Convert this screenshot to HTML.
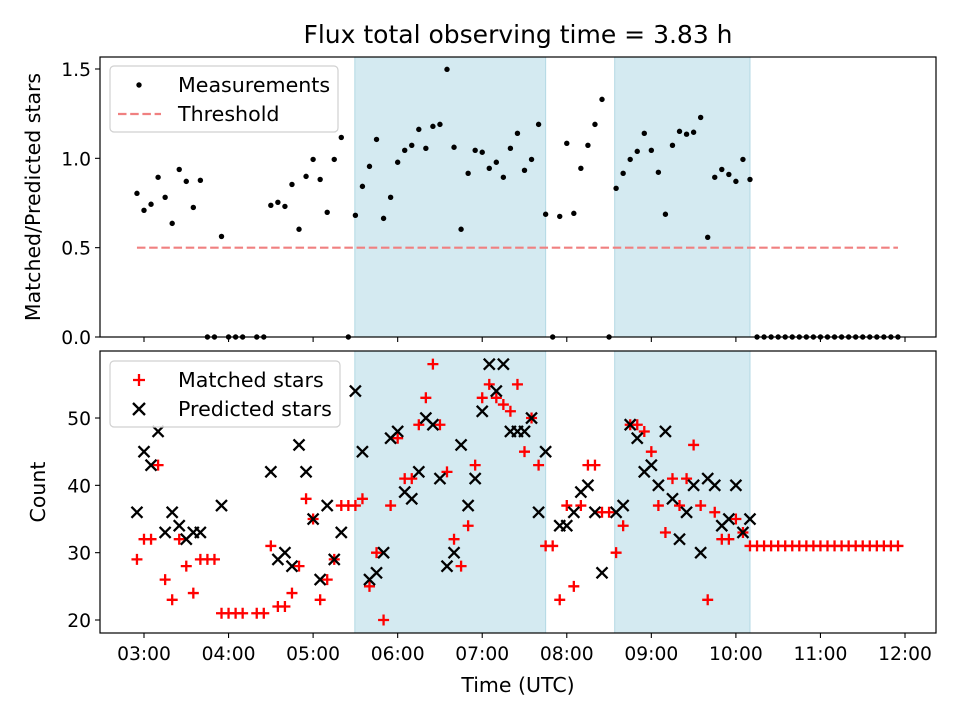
<!DOCTYPE html>
<html><head><meta charset="utf-8"><style>
html,body{margin:0;padding:0;background:#fff}
svg{display:block;font-family:"DejaVu Sans","Liberation Sans",sans-serif}
</style></head><body>
<svg id="fig" width="960" height="720" viewBox="0 0 960 720">
<rect width="960" height="720" fill="#fff"/>
<text x="518" y="43" font-size="25" text-anchor="middle">Flux total observing time = 3.83 h</text>
<g id="topPanel"></g>
<g id="botPanel"></g>
<text x="40" y="197" font-size="20.5" text-anchor="middle" transform="rotate(-90 40 197)">Matched/Predicted stars</text>
<text x="45" y="492" font-size="20.5" text-anchor="middle" transform="rotate(-90 45 492)">Count</text>
<text x="518" y="692" font-size="20.5" text-anchor="middle">Time (UTC)</text>
</svg>
<script>
const times = [175,180,185,190,195,200,205,210,215,220,225,230,235,240,245,250,255,260,265,270,275,280,285,290,295,300,305,310,315,320,325,330,335,340,345,350,355,360,365,370,375,380,385,390,395,400,405,410,415,420,425,430,435,440,445,450,455,460,465,470,475,480,485,490,495,500,505,510,515,520,525,530,535,540,545,550,555,560,565,570,575,580,585,590,595,600,605,610,615,620,625,630,635,640,645,650,655,660,665,670,675,680,685,690,695,700,705,710,715];
const ratio = [.804,.709,.743,.894,.782,.636,.938,.871,.725,.877,0,0,.563,0,0,0,null,0,0,.737,.754,.731,.854,.603,.899,.994,.882,.698,.994,1.117,0,.681,.843,.955,1.106,.664,.782,.978,1.045,1.073,1.162,1.056,1.179,1.19,1.498,1.062,.603,.916,1.045,1.034,.944,.978,.894,1.056,1.14,.933,.994,1.19,.687,0,.675,1.084,.692,.944,1.073,1.19,1.33,0,.832,.916,.994,1.039,1.14,1.045,.922,.687,1.073,1.151,1.135,1.146,1.229,.558,.894,.938,.91,.871,.994,.882,0,0,0,0,0,0,0,0,0,0,0,0,0,0,0,0,0,0,0,0,0];
const matched = [29,32,32,43,26,23,32,28,24,29,29,29,21,21,21,21,null,21,21,31,22,22,24,28,38,35,23,26,29,37,37,37,38,25,30,20,37,47,41,41,49,53,58,49,42,32,28,34,43,53,55,53,52,51,55,45,50,43,31,31,23,37,25,37,43,43,36,36,30,34,49,49,48,45,37,33,41,37,41,46,37,23,36,32,32,35,33,31,31,31,31,31,31,31,31,31,31,31,31,31,31,31,31,31,31,31,31,31,31];
const predicted = [36,45,43,48,33,36,34,32,33,33,null,null,37,null,null,null,null,null,null,42,29,30,28,46,42,35,26,37,29,33,null,54,45,26,27,30,47,48,39,38,42,50,49,41,28,30,46,37,41,51,58,54,58,48,48,48,50,36,45,null,34,34,36,39,40,36,27,null,36,37,49,47,42,43,40,48,38,32,36,40,30,41,40,34,35,40,33,35,null,null,null,null,null,null,null,null,null,null,null,null,null,null,null,null,null,null,null,null,null];
const threshold = 0.5;
const spanStarts = [329.6, 514];
const spanEnds = [465, 610];
const xTicks = [180,240,300,360,420,480,540,600,660,720];
const xTickLabels = ["03:00","04:00","05:00","06:00","07:00","08:00","09:00","10:00","11:00","12:00"];
const topTicks = [0,0.5,1.0,1.5];
const topTickLabels = ["0.0","0.5","1.0","1.5"];
const botTicks = [20,30,40,50];
const botTickLabels = ["20","30","40","50"];

const NS="http://www.w3.org/2000/svg";
const X0=100,X1=936,TT=57,TB=337,BT=351,BB=633,FS=18.7,LFS=20.6;
const xs=t=>144+(t-180)*84.556/60;
const yt=v=>337-v*178.67;
const yb=v=>620-(v-20)*6.733;
function mk(p,tag,attrs){const e=document.createElementNS(NS,tag);for(const k in attrs)e.setAttribute(k,attrs[k]);p.appendChild(e);return e;}
const topG=document.getElementById('topPanel'), botG=document.getElementById('botPanel');

function panel(g,yT,yB,pre){
  for(let i=0;i<spanStarts.length;i++){
    const r=mk(g,'rect',{x:xs(spanStarts[i]),y:yT,width:xs(spanEnds[i])-xs(spanStarts[i]),height:yB-yT,fill:'#d4eaf1',stroke:'#b3d9e4','stroke-width':1});
    
    
  }
}
panel(topG,TT,TB,'top');
panel(botG,BT,BB,'bottom');

const th=mk(topG,'line',{x1:xs(times[0]),x2:xs(times[times.length-1]),y1:yt(threshold),y2:yt(threshold),stroke:'#f08080','stroke-width':2.2,'stroke-dasharray':'8.5,3.7'});



for(let i=0;i<times.length;i++){
  if(ratio[i]===null)continue;
  const c=mk(topG,'circle',{cx:xs(times[i]),cy:yt(ratio[i]),r:2.7,fill:'#000'});
  
  
}
for(let i=0;i<times.length;i++){
  const x=xs(times[i]);
  if(matched[i]!==null){const y=yb(matched[i]);
    const p=mk(botG,'path',{d:`M${x-5.5},${y}H${x+5.5}M${x},${y-5.5}V${y+5.5}`,stroke:'#ff0000','stroke-width':2.3,fill:'none'});
    
    }
}
for(let i=0;i<times.length;i++){
  const x=xs(times[i]);
  if(predicted[i]!==null){const y=yb(predicted[i]);
    const p=mk(botG,'path',{d:`M${x-5.5},${y-5.5}L${x+5.5},${y+5.5}M${x-5.5},${y+5.5}L${x+5.5},${y-5.5}`,stroke:'#000','stroke-width':2.3,fill:'none'});
    
    }
}
function frame(g,yT,yB,pre){
  const r=mk(g,'rect',{x:X0,y:yT,width:X1-X0,height:yB-yT,fill:'none',stroke:'#000','stroke-width':1.2});
  
  
  xTicks.forEach((t,i)=>{
    const l=mk(g,'line',{x1:xs(t),x2:xs(t),y1:yB,y2:yB+5,stroke:'#000','stroke-width':1.1});
    
    
  });
}
frame(topG,TT,TB,'top');
frame(botG,BT,BB,'bottom');
xTicks.forEach((t,i)=>{
  const tx=mk(botG,'text',{x:xs(t),y:BB+27,'font-size':FS,'text-anchor':'middle'});
  tx.textContent=xTickLabels[i];
  
  
});
topTicks.forEach((v,i)=>{
  const l=mk(topG,'line',{x1:X0-5,x2:X0,y1:yt(v),y2:yt(v),stroke:'#000','stroke-width':1.1});
  
  
  const tx=mk(topG,'text',{x:X0-9,y:yt(v)+7,'font-size':FS,'text-anchor':'end'});
  tx.textContent=topTickLabels[i];
  
  
});
botTicks.forEach((v,i)=>{
  const l=mk(botG,'line',{x1:X0-5,x2:X0,y1:yb(v),y2:yb(v),stroke:'#000','stroke-width':1.1});
  
  
  const tx=mk(botG,'text',{x:X0-9,y:yb(v)+7,'font-size':FS,'text-anchor':'end'});
  tx.textContent=botTickLabels[i];
  
  
});
function legend(g,y0,w,name){
  const r=mk(g,'rect',{x:110,y:y0,width:w,height:66,rx:4,fill:'#fff','fill-opacity':0.8,stroke:'#d0d0d0','stroke-width':1.2});
  
  
}
legend(topG,66,228,'top-legend');
const lc=mk(topG,'circle',{cx:139,cy:85,r:2.7,fill:'#000'});


const ll=mk(topG,'line',{x1:118,x2:161,y1:114,y2:114,stroke:'#f08080','stroke-width':2.2,'stroke-dasharray':'8.5,3.7'});


const t1=mk(topG,'text',{x:178,y:92,'font-size':LFS});t1.textContent='Measurements';


const t2=mk(topG,'text',{x:178,y:121,'font-size':LFS});t2.textContent='Threshold';



legend(botG,361,230,'bottom-legend');
const lp=mk(botG,'path',{d:'M133,380H145M139,374V386',stroke:'#ff0000','stroke-width':2.3,fill:'none'});


const lx=mk(botG,'path',{d:'M133,403L145,415M133,415L145,403',stroke:'#000','stroke-width':2.3,fill:'none'});


const t3=mk(botG,'text',{x:178,y:387,'font-size':LFS});t3.textContent='Matched stars';


const t4=mk(botG,'text',{x:178,y:416,'font-size':LFS});t4.textContent='Predicted stars';


</script>
</body></html>
